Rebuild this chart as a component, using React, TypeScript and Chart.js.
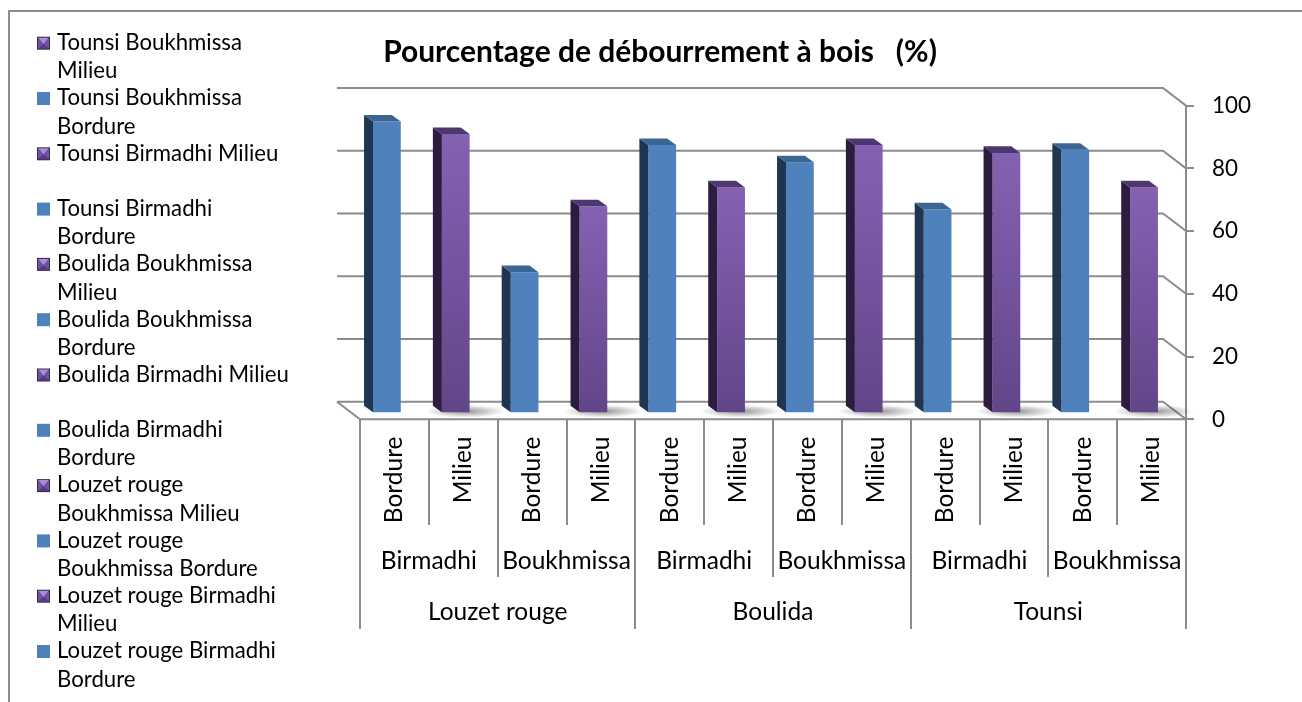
import React, { useEffect, useRef } from 'react';
import { Chart, registerables } from 'chart.js';

Chart.register(...registerables);

// ---------------- data ----------------
const TITLE = 'Pourcentage de débourrement à bois   (%)';
const varieties = ['Louzet rouge', 'Boulida', 'Tounsi'];
const sites = ['Birmadhi', 'Boukhmissa'];
const positions = ['Bordure', 'Milieu'];
// one value per bar, left to right (variety > site > position)
const values = [93, 89, 45, 66, 85.5, 72, 80, 85.5, 65, 83, 84, 72];
const yTicks = [0, 20, 40, 60, 80, 100];

const categories = varieties.flatMap((v) => sites.flatMap((s) => positions.map((p) => ({ v, s, p }))));
const seriesNames = categories.map((c) => `${c.v} ${c.s} ${c.p}`);

// ---------------- style ----------------
const W = 1302;
const H = 702;
const FAMILY = 'Lato, "Open Sans", sans-serif';
const GRID = '#8c8c8c';
const AREA = { left: 360, right: 1186, top: 105.6, bottom: 419.3 };
const BACK = { dx: -23, dy: -17.6 };
const BAR = { dx: -7.5, dy: -6 };
const DEPTH = { dx: -9, dy: -6.6 };
const COLORS = {
  Bordure: { front: '#4f81bd', side: '#1f3551', top: '#3b6592' },
  Milieu: { front: '#7a58a6', side: '#2c1c40', top: '#4d3671' },
};

export default function App() {
  const ref = useRef<HTMLCanvasElement>(null);

  useEffect(() => {
    const canvas = ref.current!;
    const mctx = canvas.getContext('2d')!;
    const fit = (weight: string, text: string, target: number) => {
      mctx.font = `${weight} 100px ${FAMILY}`;
      return (100 * target) / mctx.measureText(text).width;
    };
    const fs = {
      legend: fit('normal', 'Tounsi Boukhmissa', 185),
      axis: fit('normal', 'Birmadhi', 96),
      tick: fit('normal', '100', 39),
      title: fit('bold', TITLE, 554),
    };
    const font = (size: number, weight = 'normal') => `${weight} ${size}px ${FAMILY}`;

    const poly = (ctx: CanvasRenderingContext2D, pts: number[][], fill: string) => {
      ctx.beginPath();
      ctx.moveTo(pts[0][0], pts[0][1]);
      for (let i = 1; i < pts.length; i++) ctx.lineTo(pts[i][0], pts[i][1]);
      ctx.closePath();
      ctx.fillStyle = fill;
      ctx.fill();
    };

    const wrap = (ctx: CanvasRenderingContext2D, text: string, maxW: number) => {
      const words = text.split(' ');
      const lines: string[] = [];
      let cur = '';
      for (const w of words) {
        const t = cur ? cur + ' ' + w : w;
        if (cur && ctx.measureText(t).width > maxW) {
          lines.push(cur);
          cur = w;
        } else cur = t;
      }
      if (cur) lines.push(cur);
      return lines;
    };

    const scene = {
      id: 'scene3d',
      beforeDraw(chart: any) {
        const { ctx } = chart;
        ctx.save();
        ctx.fillStyle = '#fff';
        ctx.fillRect(0, 0, W, H);
        ctx.strokeStyle = GRID;
        ctx.lineWidth = 2;
        ctx.beginPath();
        ctx.moveTo(9, H);
        ctx.lineTo(9, 11);
        ctx.lineTo(W, 11);
        ctx.stroke();
        ctx.fillStyle = '#000';
        ctx.font = font(fs.title, 'bold');
        ctx.textAlign = 'center';
        ctx.textBaseline = 'alphabetic';
        ctx.fillText(TITLE, 660, 61.5);
        ctx.restore();
      },
      beforeDatasetsDraw(chart: any) {
        const { ctx, chartArea: ca } = chart;
        const y = chart.scales.y;
        ctx.save();
        ctx.strokeStyle = GRID;
        ctx.lineWidth = 2;
        for (const v of yTicks) {
          const yf = y.getPixelForValue(v);
          const yb = yf + BACK.dy;
          ctx.beginPath();
          ctx.moveTo(ca.left + BACK.dx, yb);
          ctx.lineTo(ca.right + BACK.dx, yb);
          ctx.lineTo(ca.right, yf);
          ctx.stroke();
        }
        const y0 = y.getPixelForValue(0);
        ctx.beginPath();
        ctx.moveTo(ca.left + BACK.dx, y0 + BACK.dy);
        ctx.lineTo(ca.left, y0);
        ctx.lineTo(ca.right, y0);
        ctx.stroke();
        // floor shadows under the purple bars
        chart.data.datasets.forEach((ds: any, i: number) => {
          if (categories[i].p !== 'Milieu') return;
          const el = chart.getDatasetMeta(i).data[i];
          const { x, width, base } = el.getProps(['x', 'width', 'base'], true);
          const cx = x + BAR.dx + width * 0.35;
          const cy = base + BAR.dy - 1;
          ctx.save();
          ctx.translate(cx, cy);
          ctx.scale(1, 0.16);
          const g = ctx.createRadialGradient(0, 0, 0, 0, 0, 40);
          g.addColorStop(0, 'rgba(60,60,60,0.55)');
          g.addColorStop(1, 'rgba(60,60,60,0)');
          ctx.fillStyle = g;
          ctx.beginPath();
          ctx.arc(0, 0, 40, 0, Math.PI * 2);
          ctx.fill();
          ctx.restore();
        });
        ctx.restore();
        ctx.save();
        ctx.translate(BAR.dx, BAR.dy);
      },
      afterDatasetsDraw(chart: any) {
        const { ctx } = chart;
        chart.data.datasets.forEach((ds: any, i: number) => {
          const meta = chart.getDatasetMeta(i);
          meta.data.forEach((el: any, j: number) => {
            if (ds.data[j] == null) return;
            const { x, y, width, base } = el.getProps(['x', 'y', 'width', 'base'], true);
            const c = COLORS[categories[j].p as 'Bordure' | 'Milieu'];
            const l = x - width / 2;
            const r = x + width / 2;
            poly(ctx, [[l, y], [l + DEPTH.dx, y + DEPTH.dy], [l + DEPTH.dx, base + DEPTH.dy], [l, base]], c.side);
            poly(ctx, [[l, y], [r, y], [r + DEPTH.dx, y + DEPTH.dy], [l + DEPTH.dx, y + DEPTH.dy]], c.top);
          });
        });
        ctx.restore();
      },
      afterDraw(chart: any) {
        const { ctx } = chart;
        const x = chart.scales.x;
        const y = chart.scales.y;
        const y0 = y.getPixelForValue(0);
        ctx.save();
        // category separators
        ctx.strokeStyle = GRID;
        ctx.lineWidth = 2;
        for (let k = 0; k <= categories.length; k++) {
          const xk = Math.round(x.getPixelForValue(k - 0.5));
          const end = k % 4 === 0 ? 629 : k % 2 === 0 ? 577 : 525;
          ctx.beginPath();
          ctx.moveTo(xk, y0);
          ctx.lineTo(xk, end);
          ctx.stroke();
        }
        ctx.fillStyle = '#000';
        ctx.font = font(fs.axis);
        // level 1: rotated position labels
        categories.forEach((c, i) => {
          ctx.save();
          ctx.translate(x.getPixelForValue(i), 436.5);
          ctx.rotate(-Math.PI / 2);
          ctx.textAlign = 'right';
          ctx.textBaseline = 'middle';
          ctx.fillText(c.p, 0, 0);
          ctx.restore();
        });
        ctx.textAlign = 'center';
        ctx.textBaseline = 'alphabetic';
        // level 2: sites
        for (let g = 0; g < varieties.length * sites.length; g++) {
          const cx = (x.getPixelForValue(g * 2) + x.getPixelForValue(g * 2 + 1)) / 2;
          ctx.fillText(sites[g % sites.length], cx, 568.5);
        }
        // level 3: varieties
        varieties.forEach((v, g) => {
          const cx = (x.getPixelForValue(g * 4) + x.getPixelForValue(g * 4 + 3)) / 2;
          ctx.fillText(v, cx, 620);
        });
        // legend (reverse order, as in the source)
        ctx.font = font(fs.legend);
        ctx.textAlign = 'left';
        ctx.textBaseline = 'alphabetic';
        const order = seriesNames.map((_, i) => i).reverse();
        order.forEach((si, n) => {
          const base = 50 + n * 55.3;
          const mx = 37;
          const my = base - 13.3;
          const s = 13;
          if (categories[si].p === 'Bordure') {
            ctx.fillStyle = COLORS.Bordure.front;
            ctx.fillRect(mx, my, s, s);
          } else {
            const cx = mx + s / 2;
            const cy = my + s / 2;
            poly(ctx, [[mx, my], [mx + s, my], [mx + s, my + s], [mx, my + s]], '#3b2858');
            poly(ctx, [[mx + 1, my + 1], [mx + s - 1, my + 1], [cx, cy + 1]], '#a88ed2');
            poly(ctx, [[mx + 1, my + 1], [cx, cy + 1], [mx + 1, my + s - 1]], '#6f52a0');
            poly(ctx, [[mx + s - 1, my + 1], [cx, cy + 1], [mx + s - 1, my + s - 1]], '#6f52a0');
            poly(ctx, [[mx + 1, my + s - 1], [cx, cy + 1], [mx + s - 1, my + s - 1]], '#573c85');
          }
          ctx.fillStyle = '#000';
          const lines = wrap(ctx, seriesNames[si], 239);
          lines.forEach((ln, li) => ctx.fillText(ln, 57, base + li * 28.3));
        });
        ctx.restore();
      },
    };

    const purpleFill = (c: any) => {
      const chart = c.chart;
      const ys = chart.scales?.y;
      if (!chart.chartArea || !ys || c.raw == null) return COLORS.Milieu.front;
      const top = ys.getPixelForValue(c.raw);
      const bot = ys.getPixelForValue(0);
      const g = chart.ctx.createLinearGradient(0, top, 0, bot);
      g.addColorStop(0, '#8462b2');
      g.addColorStop(1, '#624589');
      return g;
    };

    const chart = new Chart(canvas, {
      type: 'bar',
      data: {
        labels: categories.map((c) => c.p),
        datasets: categories.map((c, i) => ({
          label: seriesNames[i],
          data: values.map((v, j) => (j === i ? v : null)),
          backgroundColor: c.p === 'Milieu' ? purpleFill : COLORS.Bordure.front,
          borderWidth: 0,
          grouped: false,
          barPercentage: 0.403,
          categoryPercentage: 1,
        })),
      },
      options: {
        responsive: false,
        devicePixelRatio: 1,
        animation: false,
        events: [],
        layout: { padding: { left: AREA.left, top: AREA.top, right: W - AREA.right - 100, bottom: H - AREA.bottom } },
        plugins: { legend: { display: false }, title: { display: false }, tooltip: { enabled: false } },
        scales: {
          x: { display: false, offset: true },
          y: {
            position: 'right',
            min: 0,
            max: 100,
            afterFit: (scale: any) => {
              scale.width = 100;
            },
            ticks: { stepSize: 20, color: '#000', padding: 18, font: { family: FAMILY, size: fs.tick } },
            grid: { drawOnChartArea: false, drawTicks: true, tickLength: 8, color: GRID, lineWidth: 2 },
            border: { display: true, color: GRID, width: 2 },
          },
        },
      },
      plugins: [scene],
    } as any);

    return () => chart.destroy();
  }, []);

  return (
    <div style={{ position: 'fixed', left: 0, top: 0, width: W, height: H, background: '#fff' }}>
      <canvas ref={ref} width={W} height={H} style={{ display: 'block', width: W, height: H }} />
    </div>
  );
}
